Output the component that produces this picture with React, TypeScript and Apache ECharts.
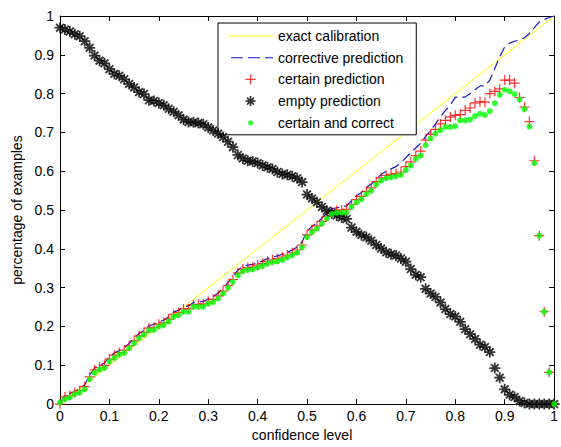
import React, { useEffect, useRef } from 'react';
import * as echarts from 'echarts';

// confidence levels (x)
const confidence = [
  0, 0.01, 0.02, 0.03, 0.04, 0.05, 0.06, 0.07, 0.08, 0.09,
  0.1, 0.11, 0.12, 0.13, 0.14, 0.15, 0.16, 0.17, 0.18, 0.19,
  0.2, 0.21, 0.22, 0.23, 0.24, 0.25, 0.26, 0.27, 0.28, 0.29,
  0.3, 0.31, 0.32, 0.33, 0.34, 0.35, 0.36, 0.37, 0.38, 0.39,
  0.4, 0.41, 0.42, 0.43, 0.44, 0.45, 0.46, 0.47, 0.48, 0.49,
  0.5, 0.51, 0.52, 0.53, 0.54, 0.55, 0.56, 0.57, 0.58, 0.59,
  0.6, 0.61, 0.62, 0.63, 0.64, 0.65, 0.66, 0.67, 0.68, 0.69,
  0.7, 0.71, 0.72, 0.73, 0.74, 0.75, 0.76, 0.77, 0.78, 0.79,
  0.8, 0.81, 0.82, 0.83, 0.84, 0.85, 0.86, 0.87, 0.88, 0.89,
  0.9, 0.91, 0.92, 0.93, 0.94, 0.95, 0.96, 0.97, 0.98, 0.99,
  1,
];

// exact calibration (diagonal)
const calibrationX = [0, 1];
const calibrationY = [0, 1];

// corrective prediction
const corrective = [
  0, 0.025, 0.027, 0.033, 0.04, 0.05, 0.075, 0.093, 0.1, 0.106,
  0.122, 0.132, 0.138, 0.145, 0.156, 0.169, 0.182, 0.19, 0.202, 0.205,
  0.212, 0.216, 0.225, 0.237, 0.242, 0.251, 0.253, 0.262, 0.263, 0.265,
  0.271, 0.277, 0.286, 0.298, 0.313, 0.328, 0.345, 0.355, 0.358, 0.36,
  0.364, 0.369, 0.375, 0.379, 0.382, 0.386, 0.391, 0.397, 0.405, 0.418,
  0.446, 0.458, 0.467, 0.479, 0.492, 0.503, 0.506, 0.508, 0.511, 0.524,
  0.537, 0.545, 0.558, 0.567, 0.58, 0.592, 0.6, 0.606, 0.612, 0.622,
  0.635, 0.648, 0.66, 0.672, 0.69, 0.705, 0.722, 0.74, 0.757, 0.77,
  0.791, 0.791, 0.791, 0.8, 0.81, 0.82, 0.82, 0.835, 0.865, 0.895,
  0.92, 0.93, 0.935, 0.938, 0.944, 0.955, 0.97, 0.985, 0.991, 0.996,
  1,
];

// certain prediction
const certainPrediction = [
  0, 0.018, 0.022, 0.03, 0.035, 0.045, 0.07, 0.088, 0.095, 0.1,
  0.116, 0.126, 0.133, 0.139, 0.15, 0.163, 0.176, 0.185, 0.196, 0.198,
  0.206, 0.21, 0.219, 0.231, 0.236, 0.245, 0.246, 0.256, 0.257, 0.258,
  0.265, 0.27, 0.279, 0.291, 0.306, 0.321, 0.338, 0.348, 0.352, 0.353,
  0.358, 0.362, 0.368, 0.372, 0.375, 0.379, 0.384, 0.39, 0.397, 0.41,
  0.436, 0.449, 0.459, 0.471, 0.484, 0.496, 0.499, 0.5, 0.502, 0.515,
  0.527, 0.535, 0.548, 0.557, 0.573, 0.583, 0.589, 0.592, 0.594, 0.598,
  0.612, 0.624, 0.64, 0.652, 0.68, 0.695, 0.708, 0.722, 0.731, 0.74,
  0.744, 0.746, 0.757, 0.763, 0.776, 0.779, 0.778, 0.8, 0.806, 0.812,
  0.835, 0.835, 0.827, 0.79, 0.765, 0.728, 0.627, 0.434, 0.238, 0.082,
  0,
];

// empty prediction
const emptyPrediction = [
  0.97, 0.965, 0.96, 0.953, 0.948, 0.935, 0.918, 0.898, 0.885, 0.878,
  0.863, 0.851, 0.846, 0.837, 0.825, 0.816, 0.804, 0.799, 0.783, 0.781,
  0.776, 0.77, 0.761, 0.753, 0.744, 0.733, 0.727, 0.726, 0.724, 0.721,
  0.713, 0.705, 0.697, 0.688, 0.676, 0.662, 0.642, 0.633, 0.627, 0.625,
  0.621, 0.615, 0.61, 0.606, 0.598, 0.593, 0.591, 0.587, 0.582, 0.572,
  0.54, 0.53, 0.52, 0.508, 0.498, 0.492, 0.486, 0.481, 0.477, 0.455,
  0.444, 0.436, 0.43, 0.421, 0.41, 0.401, 0.391, 0.386, 0.383, 0.375,
  0.367, 0.348, 0.333, 0.327, 0.297, 0.285, 0.276, 0.262, 0.245, 0.232,
  0.226, 0.212, 0.193, 0.18, 0.168, 0.153, 0.147, 0.134, 0.093, 0.068,
  0.038, 0.024, 0.018, 0.008, 0.003, 0, 0, 0, 0, 0,
  0,
];

// certain and correct
const certainCorrect = [
  0.004, 0.013, 0.017, 0.026, 0.03, 0.038, 0.064, 0.081, 0.089, 0.093,
  0.11, 0.119, 0.128, 0.132, 0.144, 0.157, 0.17, 0.179, 0.19, 0.191,
  0.2, 0.204, 0.213, 0.225, 0.229, 0.238, 0.238, 0.251, 0.251, 0.251,
  0.259, 0.263, 0.272, 0.285, 0.3, 0.315, 0.332, 0.342, 0.346, 0.347,
  0.352, 0.356, 0.362, 0.366, 0.368, 0.372, 0.378, 0.384, 0.39, 0.404,
  0.43, 0.443, 0.452, 0.465, 0.478, 0.49, 0.493, 0.493, 0.494, 0.508,
  0.52, 0.528, 0.541, 0.55, 0.566, 0.576, 0.582, 0.585, 0.587, 0.591,
  0.603, 0.615, 0.632, 0.64, 0.667, 0.684, 0.697, 0.706, 0.714, 0.714,
  0.716, 0.731, 0.731, 0.733, 0.742, 0.748, 0.745, 0.755, 0.775, 0.797,
  0.81, 0.806, 0.799, 0.785, 0.76, 0.715, 0.621, 0.434, 0.238, 0.082,
  0,
];

const seriesNames = [
  'exact calibration',
  'corrective prediction',
  'certain prediction',
  'empty prediction',
  'certain and correct',
];

const FONT = '"Liberation Sans", Arial, Helvetica, sans-serif';

const PLUS_SHAPE =
  'M4.4,0L5.6,0L5.6,4.4L10,4.4L10,5.6L5.6,5.6L5.6,10L4.4,10L4.4,5.6L0,5.6L0,4.4L4.4,4.4Z';
const STAR_SHAPE =
  'M4.2,0L5.8,0L5.8,10L4.2,10Z' +
  'M0,4.2L10,4.2L10,5.8L0,5.8Z' +
  'M2.1,0.9L9.1,7.9L7.9,9.1L0.9,2.1Z' +
  'M7.9,0.9L9.1,2.1L2.1,9.1L0.9,7.9Z' +
  'M3.6,3.6L6.4,3.6L6.4,6.4L3.6,6.4Z';
const DOT_LEGEND = 'path://M0,0M14,14M9.5,7A2.5,2.5,0,1,1,4.5,7A2.5,2.5,0,1,1,9.5,7Z';
const SOLID_LEGEND = 'path://M0,0M45,14M0,6.5L45,6.5L45,7.5L0,7.5Z';
const DASH_LEGEND =
  'path://M0,0M45,14' +
  'M3,6.5L15,6.5L15,7.5L3,7.5Z' +
  'M20,6.5L32,6.5L32,7.5L20,7.5Z' +
  'M37,6.5L45,6.5L45,7.5L37,7.5Z';

const pair = (ys: number[]) => confidence.map((x, i) => [x, ys[i]]);

export default function App() {
  const ref = useRef<HTMLDivElement>(null);

  useEffect(() => {
    document.body.style.margin = '0';
    if (!ref.current) return;
    const chart = echarts.init(ref.current, undefined, { renderer: 'svg' });

    const axisLine = { show: true, onZero: false, lineStyle: { color: '#000', width: 1 } };
    const axisTick = { show: true, inside: true, length: 5, lineStyle: { color: '#000', width: 1 } };
    const labelStyle = { color: '#000', fontSize: 14, fontFamily: FONT };

    chart.setOption({
      animation: false,
      backgroundColor: '#fff',
      grid: { left: 60, right: 2, top: 16, bottom: 38, containLabel: false },
      xAxis: [
        {
          type: 'value', min: 0, max: 1, interval: 0.1, position: 'bottom',
          axisLine, axisTick, splitLine: { show: false },
          axisLabel: { ...labelStyle, margin: 5 },
          name: 'confidence level', nameLocation: 'middle', nameGap: 23,
          nameTextStyle: { ...labelStyle, padding: [0, 10, 0, 0] },
        },
        {
          type: 'value', min: 0, max: 1, interval: 0.1, position: 'top',
          axisLine, axisTick, splitLine: { show: false }, axisLabel: { show: false },
        },
      ],
      yAxis: [
        {
          type: 'value', min: 0, max: 1, interval: 0.1, position: 'left',
          axisLine, axisTick, splitLine: { show: false },
          axisLabel: { ...labelStyle, margin: 6 },
          name: 'percentage of examples', nameLocation: 'middle', nameGap: 34, nameRotate: 90,
          nameTextStyle: { ...labelStyle },
        },
        {
          type: 'value', min: 0, max: 1, interval: 0.1, position: 'right',
          axisLine, axisTick, splitLine: { show: false }, axisLabel: { show: false },
        },
      ],
      legend: {
        orient: 'vertical',
        left: 218,
        top: 23,
        padding: [6, 13, 5, 10],
        itemWidth: 45,
        itemHeight: 14,
        itemGap: 7.7,
        backgroundColor: '#fff',
        borderColor: '#000',
        borderWidth: 1,
        borderRadius: 0,
        selectedMode: false,
        textStyle: { color: '#000', fontSize: 14, fontFamily: FONT, lineHeight: 14 },
        data: [
          { name: seriesNames[0], icon: SOLID_LEGEND },
          { name: seriesNames[1], icon: DASH_LEGEND },
          { name: seriesNames[2], icon: 'path://M-2,-2M12,12' + PLUS_SHAPE },
          { name: seriesNames[3], icon: 'path://M-2,-2M12,12' + STAR_SHAPE },
          { name: seriesNames[4], icon: DOT_LEGEND },
        ],
      },
      series: [
        {
          name: seriesNames[0], type: 'line', symbol: 'none', showSymbol: false,
          data: calibrationX.map((x, i) => [x, calibrationY[i]]),
          lineStyle: { color: '#ffff00', width: 1 }, itemStyle: { color: '#ffff00' },
          z: 2,
        },
        {
          name: seriesNames[1], type: 'line', symbol: 'none', showSymbol: false,
          data: pair(corrective),
          lineStyle: { color: '#1818c0', width: 1.2, type: [10, 5] }, itemStyle: { color: '#1818c0' },
          z: 3,
        },
        {
          name: seriesNames[2], type: 'scatter', symbol: 'path://' + PLUS_SHAPE, symbolSize: 10,
          data: pair(certainPrediction), itemStyle: { color: '#ff0000' }, clip: false, z: 4,
        },
        {
          name: seriesNames[3], type: 'scatter', symbol: 'path://' + STAR_SHAPE, symbolSize: 11,
          data: pair(emptyPrediction), itemStyle: { color: '#000' }, clip: false, z: 5,
        },
        {
          name: seriesNames[4], type: 'scatter', symbol: 'circle', symbolSize: 6,
          data: pair(certainCorrect), itemStyle: { color: '#00ff00' }, clip: false, z: 6,
        },
      ],
    });

    return () => chart.dispose();
  }, []);

  return <div ref={ref} style={{ width: 561, height: 447 }} />;
}
